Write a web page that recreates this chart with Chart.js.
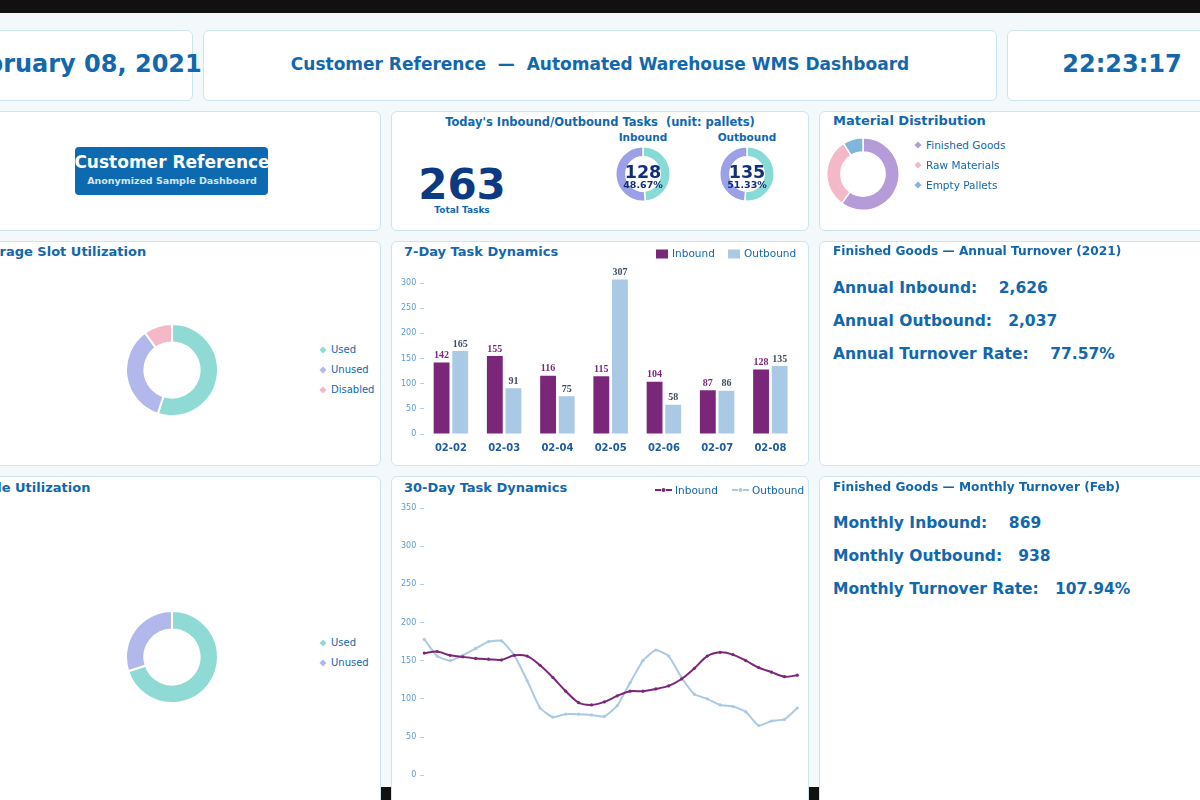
<!DOCTYPE html>
<html><head><meta charset="utf-8">
<script src="https://cdn.jsdelivr.net/npm/chart.js@4.4.1/dist/chart.umd.min.js"></script>
<style>
html,body{margin:0;padding:0;width:1200px;height:800px;overflow:hidden;background:#111;font-family:"DejaVu Sans",sans-serif;position:relative;}
#bg{position:absolute;left:0;top:13px;width:1200px;height:774px;background:#f3f8fb;}
.panel{position:absolute;background:#fff;border:1px solid #cfe5ee;border-radius:6px;box-sizing:border-box;}
.t{position:absolute;white-space:pre;line-height:1;color:#1267ad;font-weight:bold;}
.c{transform:translate(-50%,-50%);}
.l{transform:translateY(-50%);}
.n{font-weight:normal;}
canvas{position:absolute;}
.dia{position:absolute;width:5px;height:5px;transform:translate(-50%,-50%) rotate(45deg);}
.sq{position:absolute;width:12px;height:9px;transform:translateY(-50%);}
#btn{position:absolute;left:75px;top:147px;width:193px;height:48px;background:#0d6ab0;border-radius:4px;}
</style></head>
<body>
<div id="bg"></div>

<!-- header -->
<div class="panel" style="left:-37px;top:30px;width:230px;height:71px"></div>
<div class="panel" style="left:203px;top:30px;width:794px;height:71px"></div>
<div class="panel" style="left:1007px;top:30px;width:230px;height:71px"></div>
<div class="t c" id="hdate" style="left:78px;top:64px;font-size:24px"></div>
<div class="t c" id="htitle" style="left:600px;top:64px;font-size:17px"></div>
<div class="t c" id="hclock" style="left:1122px;top:64px;font-size:24px"></div>

<!-- row 2 -->
<div class="panel" style="left:-37px;top:111px;width:418px;height:120px"></div>
<div class="panel" style="left:391px;top:111px;width:418px;height:120px"></div>
<div class="panel" style="left:819px;top:111px;width:418px;height:120px"></div>
<div id="btn"></div>
<div class="t c" style="left:172px;top:162px;font-size:17px;color:#fff">Customer Reference</div>
<div class="t c" style="left:172px;top:180.5px;font-size:9.5px;color:#d6e6f4">Anonymized Sample Dashboard</div>

<div class="t c" style="left:600px;top:123px;font-size:11.5px">Today's Inbound/Outbound Tasks  (unit: pallets)</div>
<div class="t c" id="totalNum" style="left:462px;top:185px;font-size:42px;color:#0b3a82"></div>
<div class="t c" style="left:462px;top:210px;font-size:9px">Total Tasks</div>
<div class="t c" style="left:643px;top:137px;font-size:10.5px">Inbound</div>
<div class="t c" style="left:747px;top:137px;font-size:10.5px">Outbound</div>
<canvas id="cIn" width="56" height="56" style="left:615px;top:146px;width:56px;height:56px"></canvas>
<canvas id="cOut" width="56" height="56" style="left:719px;top:146px;width:56px;height:56px"></canvas>
<div class="t c" id="inNum" style="left:643px;top:172.5px;font-size:17.5px;color:#12307a"></div>
<div class="t c" id="inPct" style="left:643px;top:185px;font-size:9.5px;color:#12307a"></div>
<div class="t c" id="outNum" style="left:747px;top:172.5px;font-size:17.5px;color:#12307a"></div>
<div class="t c" id="outPct" style="left:747px;top:185px;font-size:9.5px;color:#12307a"></div>

<div class="t l" style="left:833px;top:120px;font-size:13px">Material Distribution</div>
<canvas id="cMat" width="74" height="74" style="left:826px;top:137px;width:74px;height:74px"></canvas>
<div id="matLegend"></div>

<!-- row 3 -->
<div class="panel" style="left:-37px;top:241px;width:418px;height:225px"></div>
<div class="panel" style="left:391px;top:241px;width:418px;height:225px"></div>
<div class="panel" style="left:819px;top:241px;width:418px;height:225px"></div>
<div class="t l" style="left:-25px;top:251px;font-size:13px">Storage Slot Utilization</div>
<canvas id="cSlot" width="94" height="94" style="left:125px;top:323px;width:94px;height:94px"></canvas>
<div id="slotLegend"></div>

<div class="t l" style="left:404px;top:251px;font-size:13px">7-Day Task Dynamics</div>
<canvas id="cWeek" width="416" height="223" style="left:392px;top:242px;width:416px;height:223px"></canvas>
<div class="sq" style="left:656px;top:254px;background:#7b2779"></div>
<div class="t l n" style="left:672px;top:253px;font-size:10.5px">Inbound</div>
<div class="sq" style="left:728px;top:254px;background:#a9c9e5"></div>
<div class="t l n" style="left:744px;top:253px;font-size:10.5px">Outbound</div>

<div class="t l" style="left:833px;top:251px;font-size:12.2px">Finished Goods — Annual Turnover (2021)</div>
<div class="t l" id="an1" style="left:833px;top:288.5px;font-size:15.5px"></div>
<div class="t l" id="an2" style="left:833px;top:321.5px;font-size:15.5px"></div>
<div class="t l" id="an3" style="left:833px;top:354.5px;font-size:15.5px"></div>

<!-- row 4 -->
<div class="panel" style="left:-37px;top:476px;width:418px;height:360px"></div>
<div class="panel" style="left:391px;top:476px;width:418px;height:360px"></div>
<div class="panel" style="left:819px;top:476px;width:418px;height:360px"></div>
<div class="t l" style="left:-25px;top:487px;font-size:13px">Aisle Utilization</div>
<canvas id="cAisle" width="94" height="94" style="left:125px;top:610px;width:94px;height:94px"></canvas>
<div id="aisleLegend"></div>

<div class="t l" style="left:404px;top:487px;font-size:13px">30-Day Task Dynamics</div>
<canvas id="cMonth" width="416" height="307" style="left:392px;top:477px;width:416px;height:307px"></canvas>
<svg style="position:absolute;left:655px;top:486px" width="17" height="8"><line x1="0" y1="4" x2="6" y2="4" stroke="#7b2779" stroke-width="2"/><line x1="11" y1="4" x2="17" y2="4" stroke="#7b2779" stroke-width="2"/><circle cx="8.5" cy="4" r="2" fill="#7b2779"/></svg>
<div class="t l n" style="left:675px;top:490px;font-size:10.5px">Inbound</div>
<svg style="position:absolute;left:732px;top:486px" width="17" height="8"><line x1="0" y1="4" x2="6" y2="4" stroke="#a9c9e5" stroke-width="2"/><line x1="11" y1="4" x2="17" y2="4" stroke="#a9c9e5" stroke-width="2"/><circle cx="8.5" cy="4" r="2" fill="#a9c9e5"/></svg>
<div class="t l n" style="left:752px;top:490px;font-size:10.5px">Outbound</div>

<div class="t l" style="left:833px;top:487px;font-size:12.2px">Finished Goods — Monthly Turnover (Feb)</div>
<div class="t l" id="mo1" style="left:833px;top:523.5px;font-size:15.5px"></div>
<div class="t l" id="mo2" style="left:833px;top:556.5px;font-size:15.5px"></div>
<div class="t l" id="mo3" style="left:833px;top:589.5px;font-size:15.5px"></div>

<script>
// ---------- data ----------
const headerDate = "February 08, 2021";
const headerTitle = "Customer Reference  —  Automated Warehouse WMS Dashboard";
const headerClock = "22:23:17";

const todayInbound = 128;
const todayOutbound = 135;

const materialLabels = ["Finished Goods", "Raw Materials", "Empty Pallets"];
const materialValues = [60, 31, 9];

const slotLabels = ["Used", "Unused", "Disabled"];
const slotValues = [55, 35, 10];

const aisleLabels = ["Used", "Unused"];
const aisleValues = [70, 30];

const weekLabels = ["02-02", "02-03", "02-04", "02-05", "02-06", "02-07", "02-08"];
const weekInbound = [142, 155, 116, 115, 104, 87, 128];
const weekOutbound = [165, 91, 75, 307, 58, 86, 135];

const monthLabels = ["01-10","01-11","01-12","01-13","01-14","01-15","01-16","01-17","01-18","01-19",
  "01-20","01-21","01-22","01-23","01-24","01-25","01-26","01-27","01-28","01-29",
  "01-30","01-31","02-01","02-02","02-03","02-04","02-05","02-06","02-07","02-08"];
const monthInbound = [160,162,157,155,153,152,151,157,156,144,128,110,95,92,96,104,110,110,113,117,126,140,156,161,158,150,141,135,129,131];
const monthOutbound = [178,156,150,157,166,175,176,157,124,88,76,80,80,79,77,91,121,150,164,156,128,106,100,92,90,83,65,71,73,88];

const weekTicks = [0, 50, 100, 150, 200, 250, 300];
const monthTicks = [0, 50, 100, 150, 200, 250, 300, 350];

const annualInbound = 2626, annualOutbound = 2037;
const monthlyInbound = 869, monthlyOutbound = 938;

// ---------- styles ----------
const C_IN = "#7b2779", C_OUT = "#a9c9e5";
const teal = "#87dad6", lav = "#9ba0e8";
const matColors = ["#b59bd8", "#f4b8c6", "#80b6dd"];
const slotColors = ["#8fdad5", "#b3b8ec", "#f4b8c6"];
const aisleColors = ["#8fdad5", "#b3b8ec"];

Chart.defaults.font.family = '"DejaVu Sans", sans-serif';
Chart.defaults.animation = false;

const fmt = n => n.toLocaleString("en-US");
document.getElementById("hdate").textContent = headerDate;
document.getElementById("htitle").textContent = headerTitle;
document.getElementById("hclock").textContent = headerClock;
const total = todayInbound + todayOutbound;
document.getElementById("totalNum").textContent = total;
document.getElementById("inNum").textContent = todayInbound;
document.getElementById("outNum").textContent = todayOutbound;
document.getElementById("inPct").textContent = (todayInbound / total * 100).toFixed(2) + "%";
document.getElementById("outPct").textContent = (todayOutbound / total * 100).toFixed(2) + "%";
document.getElementById("an1").textContent = "Annual Inbound:    " + fmt(annualInbound);
document.getElementById("an2").textContent = "Annual Outbound:   " + fmt(annualOutbound);
document.getElementById("an3").textContent = "Annual Turnover Rate:    " + (annualOutbound / annualInbound * 100).toFixed(2) + "%";
document.getElementById("mo1").textContent = "Monthly Inbound:    " + fmt(monthlyInbound);
document.getElementById("mo2").textContent = "Monthly Outbound:   " + fmt(monthlyOutbound);
document.getElementById("mo3").textContent = "Monthly Turnover Rate:   " + (monthlyOutbound / monthlyInbound * 100).toFixed(2) + "%";

function legend(containerId, labels, colors, x, y0, step, size) {
  const el = document.getElementById(containerId);
  labels.forEach((lab, i) => {
    const y = y0 + i * step;
    const d = document.createElement("div");
    d.className = "dia"; d.style.left = x + "px"; d.style.top = y + "px"; d.style.background = colors[i];
    el.appendChild(d);
    const t = document.createElement("div");
    t.className = "t l n"; t.style.left = (x + 8) + "px"; t.style.top = y + "px"; t.style.fontSize = size + "px";
    t.textContent = lab;
    el.appendChild(t);
  });
}
legend("matLegend", materialLabels, matColors, 918, 145, 20, 10.5);
legend("slotLegend", slotLabels, slotColors, 323, 350, 20, 10);
legend("aisleLegend", aisleLabels, aisleColors, 323, 643, 20, 10);

function donut(id, labels, values, colors, cutout, bw) {
  return new Chart(document.getElementById(id), {
    type: "doughnut",
    data: { labels, datasets: [{ data: values, backgroundColor: colors, borderColor: "#ffffff", borderWidth: bw, hoverOffset: 0 }] },
    options: {
      responsive: false, devicePixelRatio: 1, cutout,
      layout: { padding: 0 },
      plugins: { legend: { display: false }, tooltip: { enabled: false } }
    }
  });
}
donut("cIn", ["Inbound", "Outbound"], [todayInbound, todayOutbound], [teal, lav], "63%", 1.5);
donut("cOut", ["Outbound", "Inbound"], [todayOutbound, todayInbound], [teal, lav], "63%", 1.5);
donut("cMat", materialLabels, materialValues, matColors, "61%", 1.5);
donut("cSlot", slotLabels, slotValues, slotColors, "60%", 2);
donut("cAisle", aisleLabels, aisleValues, aisleColors, "60%", 2);

const yAxisCommon = (ticks, max) => ({
  min: 0, max,
  afterBuildTicks: s => { s.ticks = ticks.map(v => ({ value: v })); },
  grid: { drawOnChartArea: false, drawTicks: true, tickLength: 4, color: "#a8cbe6", tickWidth: 1 },
  border: { display: false },
  ticks: { padding: 4, color: "#5b9bd5", font: { size: 8 } }
});

const barLabels = {
  id: "barLabels",
  afterDatasetsDraw(chart) {
    const ctx = chart.ctx;
    chart.data.datasets.forEach((ds, i) => {
      const meta = chart.getDatasetMeta(i);
      ctx.save();
      ctx.font = 'bold 10px "Liberation Serif", serif';
      ctx.fillStyle = i === 0 ? "#7b2779" : "#3d4e60";
      ctx.textAlign = "center"; ctx.textBaseline = "middle";
      meta.data.forEach((bar, j) => ctx.fillText(ds.data[j], bar.x, bar.y - 7));
      ctx.restore();
    });
  }
};

new Chart(document.getElementById("cWeek"), {
  type: "bar",
  data: {
    labels: weekLabels,
    datasets: [
      { label: "Inbound", data: weekInbound, backgroundColor: C_IN, categoryPercentage: 0.7, barPercentage: 0.85 },
      { label: "Outbound", data: weekOutbound, backgroundColor: C_OUT, categoryPercentage: 0.7, barPercentage: 0.85 }
    ]
  },
  options: {
    responsive: false, devicePixelRatio: 1,
    layout: { padding: { left: 5, right: 11, top: 31, bottom: 3 } },
    plugins: { legend: { display: false }, tooltip: { enabled: false } },
    scales: {
      x: { grid: { display: false, drawTicks: false }, border: { display: false },
           ticks: { padding: 8, color: "#1d5c9e", font: { size: 10, weight: "bold" } } },
      y: yAxisCommon(weekTicks, 320)
    }
  },
  plugins: [barLabels]
});

new Chart(document.getElementById("cMonth"), {
  type: "line",
  data: {
    labels: monthLabels,
    datasets: [
      { label: "Inbound", data: monthInbound, borderColor: C_IN, backgroundColor: C_IN, borderWidth: 2, pointRadius: 1.6, pointBorderWidth: 0, tension: 0.3 },
      { label: "Outbound", data: monthOutbound, borderColor: C_OUT, backgroundColor: C_OUT, borderWidth: 2, pointRadius: 1.6, pointBorderWidth: 0, tension: 0.15 }
    ]
  },
  options: {
    responsive: false, devicePixelRatio: 1,
    layout: { padding: { left: 5, right: 10.7, top: 31, bottom: 4 } },
    plugins: { legend: { display: false }, tooltip: { enabled: false } },
    scales: {
      x: { offset: false, grid: { display: false, drawTicks: false }, border: { display: false }, ticks: { display: false } },
      y: yAxisCommon(monthTicks, 350)
    }
  }
});
</script>
</body></html>
